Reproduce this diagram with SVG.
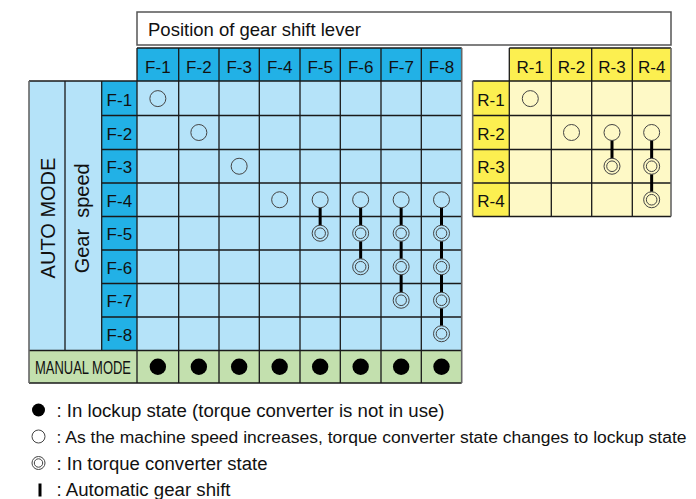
<svg xmlns="http://www.w3.org/2000/svg" width="696" height="499" viewBox="0 0 696 499">
<style>
text{font-family:"Liberation Sans",Arial,Helvetica,sans-serif;fill:#111}
.hb{fill:#22b1e6}.cb{fill:#b5e3f9}.hy{fill:#fcef50}.cy{fill:#fef9c6}.gr{fill:#c3e0ae}
.grid{stroke:#1a1a1a;stroke-width:1.3;fill:none}
.edge{stroke:#666;stroke-width:1.6;fill:none}
.lbl{font-size:17px;text-anchor:middle}
.o{fill:none;stroke:#444;stroke-width:1}
.f{fill:#000}
.conn{stroke:#000;stroke-width:3;fill:none}
.leg{font-size:18px}
</style>
<defs>
<circle id="oc" r="8" class="o"/>
<g id="dc"><circle r="8" class="o"/><circle r="5.3" class="o"/></g>
<circle id="fc" r="8.2" class="f"/>
</defs>

<g id="title">
<rect x="137" y="12" width="534" height="33" fill="#fff" stroke="#555" stroke-width="1.5"/>
<text x="148" y="36" style="font-size:18.5px">Position of gear shift lever</text>
</g>

<g id="forward-table">
<rect class="hb" x="137" y="48" width="324.7" height="33"/>
<rect class="cb" x="29" y="81" width="72.7" height="269.5"/>
<rect class="hb" x="101.7" y="81" width="35.3" height="269.5"/>
<rect class="cb" x="137" y="81" width="324.7" height="269.5"/>
<rect class="gr" x="29" y="350.5" width="432.7" height="32.5"/>
<path class="grid" d="M137 48H461.7M29 81H461.7M101.7 115.5H461.7M101.7 149.5H461.7M101.7 183H461.7M101.7 216.5H461.7M101.7 250H461.7M101.7 283.5H461.7M101.7 317H461.7M29 350.5H461.7M29 383H461.7
M65 81V350.5M101.7 81V350.5M137 48V383M178.7 48V383M219 48V383M259.3 48V383M300 48V383M340.3 48V383M381 48V383M421.3 48V383"/>
<path class="edge" d="M29 81V383M461.7 48V383"/>
<g class="lbl">
<text x="157.85" y="73">F-1</text><text x="198.85" y="73">F-2</text><text x="239.15" y="73">F-3</text><text x="279.65" y="73">F-4</text>
<text x="320.15" y="73">F-5</text><text x="360.65" y="73">F-6</text><text x="401.15" y="73">F-7</text><text x="441.5" y="73">F-8</text>
<text x="119.35" y="105.5">F-1</text><text x="119.35" y="139.5">F-2</text><text x="119.35" y="173">F-3</text><text x="119.35" y="206.5">F-4</text>
<text x="119.35" y="240">F-5</text><text x="119.35" y="273.5">F-6</text><text x="119.35" y="307">F-7</text><text x="119.35" y="340.5">F-8</text>
</g>
<text transform="translate(55,218) rotate(-90)" style="font-size:20px;text-anchor:middle">AUTO MODE</text>
<text transform="translate(89.3,218.3) rotate(-90)" style="font-size:20px;text-anchor:middle" xml:space="preserve">Gear  speed</text>
<text x="35" y="374" style="font-size:18px" textLength="96" lengthAdjust="spacingAndGlyphs">MANUAL MODE</text>
</g>

<g id="reverse-table">
<rect class="hy" x="509.3" y="48" width="161.7" height="33"/>
<rect class="hy" x="472.7" y="81" width="36.6" height="135.5"/>
<rect class="cy" x="509.3" y="81" width="161.7" height="135.5"/>
<path class="grid" d="M509.3 48H671M472.7 81H671M472.7 115.5H671M472.7 149.5H671M472.7 183H671M472.7 216.5H671
M509.3 48V216.5M551.3 48V216.5M591.7 48V216.5M632.3 48V216.5"/>
<path class="edge" d="M472.7 81V216.5M671 48V216.5"/>
<g class="lbl">
<text x="530.3" y="73">R-1</text><text x="571.5" y="73">R-2</text><text x="612" y="73">R-3</text><text x="651.65" y="73">R-4</text>
<text x="491" y="105.5">R-1</text><text x="491" y="139.5">R-2</text><text x="491" y="173">R-3</text><text x="491" y="206.5">R-4</text>
</g>
</g>

<g id="connectors">
<path class="conn" d="M320.15 207.75V225.25
M360.65 207.75V225.25M360.65 241.25V258.75
M401.15 207.75V225.25M401.15 241.25V258.75M401.15 274.75V292.25
M441.5 207.75V225.25M441.5 241.25V258.75M441.5 274.75V292.25M441.5 308.25V325.75
M612 140.5V158.25M651.65 140.5V158.25M651.65 174.25V191.75"/>
</g>

<g id="symbols">
<use href="#oc" x="157.85" y="98.6"/>
<use href="#oc" x="198.85" y="132.5"/>
<use href="#oc" x="239.15" y="166.25"/>
<use href="#oc" x="279.65" y="199.75"/>
<use href="#oc" x="320.15" y="199.75"/>
<use href="#oc" x="360.65" y="199.75"/>
<use href="#oc" x="401.15" y="199.75"/>
<use href="#oc" x="441.5" y="199.75"/>
<use href="#dc" x="320.15" y="233.25"/>
<use href="#dc" x="360.65" y="233.25"/>
<use href="#dc" x="401.15" y="233.25"/>
<use href="#dc" x="441.5" y="233.25"/>
<use href="#dc" x="360.65" y="266.75"/>
<use href="#dc" x="401.15" y="266.75"/>
<use href="#dc" x="441.5" y="266.75"/>
<use href="#dc" x="401.15" y="300.25"/>
<use href="#dc" x="441.5" y="300.25"/>
<use href="#dc" x="441.5" y="333.75"/>
<use href="#fc" x="157.85" y="366.75"/>
<use href="#fc" x="198.85" y="366.75"/>
<use href="#fc" x="239.15" y="366.75"/>
<use href="#fc" x="279.65" y="366.75"/>
<use href="#fc" x="320.15" y="366.75"/>
<use href="#fc" x="360.65" y="366.75"/>
<use href="#fc" x="401.15" y="366.75"/>
<use href="#fc" x="441.5" y="366.75"/>
<use href="#oc" x="530.3" y="98.6"/>
<use href="#oc" x="571.5" y="132.5"/>
<use href="#oc" x="612" y="132.5"/>
<use href="#oc" x="651.65" y="132.5"/>
<use href="#dc" x="612" y="166.25"/>
<use href="#dc" x="651.65" y="166.25"/>
<use href="#dc" x="651.65" y="199.75"/>
</g>

<g id="legend">
<circle cx="38.5" cy="410" r="6.5" class="f"/>
<circle cx="38.5" cy="436.5" r="6.5" class="o"/>
<circle cx="38.5" cy="463" r="6.5" class="o"/><circle cx="38.5" cy="463" r="4.2" class="o"/>
<rect x="38.5" y="483.5" width="3" height="13" fill="#000"/>
<text class="leg" x="56.5" y="416.5" textLength="388" lengthAdjust="spacingAndGlyphs">: In lockup state (torque converter is not in use)</text>
<text class="leg" x="56.5" y="443" style="font-size:17.3px" textLength="630" lengthAdjust="spacingAndGlyphs">: As the machine speed increases, torque converter state changes to lockup state</text>
<text class="leg" x="56.5" y="469.5" textLength="211" lengthAdjust="spacingAndGlyphs">: In torque converter state</text>
<text class="leg" x="56.5" y="496" textLength="174" lengthAdjust="spacingAndGlyphs">: Automatic gear shift</text>
</g>
</svg>
